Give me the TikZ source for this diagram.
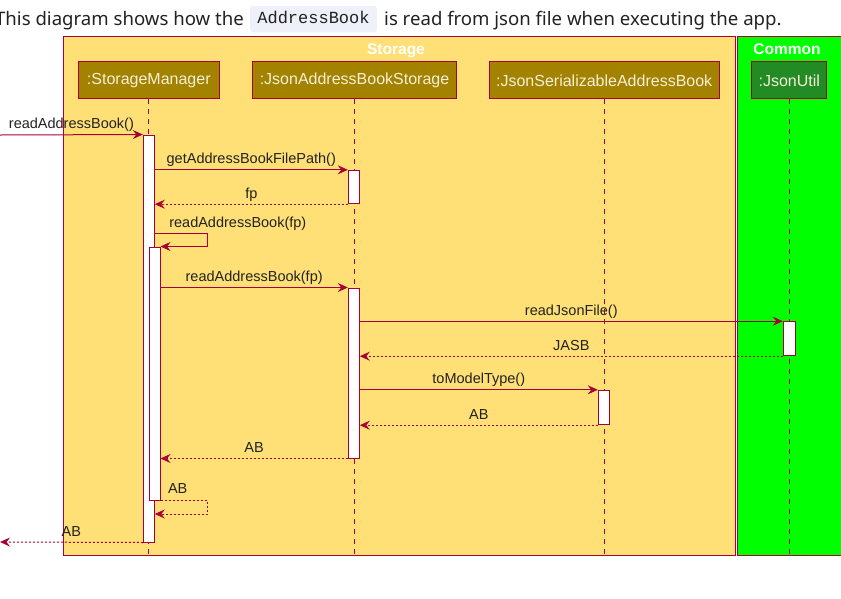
\documentclass[tikz,border=0pt]{standalone}
\usepackage{fontspec}
\setmainfont{Noto Sans}
\newfontfamily\umlfont{Liberation Sans}
\newfontfamily\codefont{Liberation Mono}
\usetikzlibrary{positioning, arrows.meta}

\definecolor{umlred}{HTML}{A80036}
\definecolor{storagefill}{HTML}{FFE076}
\definecolor{commonfill}{HTML}{00FF00}
\definecolor{partfill}{HTML}{A38200}
\definecolor{utilfill}{HTML}{238B23}
\definecolor{parttext}{HTML}{F4F0D8}
\definecolor{msgtext}{HTML}{222222}
\definecolor{codebg}{HTML}{EEF0FA}

\begin{document}
\begin{tikzpicture}[x=1pt, y=-1pt, >={Stealth[length=10pt, width=9pt, inset=3.5pt]},
    part/.style={draw=umlred, line width=1pt, fill=partfill, text=parttext, inner sep=0pt,
        minimum height=37pt, font=\umlfont\fontsize{16}{19}\selectfont},
    act/.style={draw=umlred, line width=1pt, fill=white, inner sep=0pt, minimum width=11pt},
    life/.style={umlred, line width=1pt, dash pattern=on 5pt off 5pt},
    call/.style={->, umlred, line width=1pt},
    ret/.style={->, umlred, line width=1pt, dash pattern=on 2pt off 2pt},
    msg/.style={midway, anchor=base, yshift=6pt, inner sep=0pt, text=msgtext,
        font=\umlfont\fontsize{14.5}{17}\selectfont},
    selfmsg/.style={anchor=base west, xshift=14pt, yshift=6pt, inner sep=0pt, text=msgtext,
        font=\umlfont\fontsize{14.5}{17}\selectfont},
    grptitle/.style={anchor=base, inner sep=0pt, text=white, font=\umlfont\bfseries\fontsize{15.5}{18}\selectfont},
    captext/.style={inner sep=0pt, text=msgtext, font=\fontsize{18.6}{22}\selectfont}]
    \useasboundingbox (0,0) rectangle (841,598);
    \clip (0,0) rectangle (841,598);

    % caption
    \node[captext, anchor=base east] (cap1) at (244,25.5) {This diagram shows how the};
    \node[fill=codebg, rounded corners=3pt, minimum width=127pt, minimum height=26.5pt, inner sep=0pt,
        text=msgtext, font=\codefont\fontsize{17}{20}\selectfont] (code) at (313.5,19) {\strut AddressBook};
    \node[captext, anchor=base west] (cap2) at (384,25.5) {is read from json file when executing the app.};

    % boxes
    \draw[umlred, line width=1pt, fill=storagefill] (63,36.7) rectangle (735,555.7);
    \draw[umlred, line width=1pt, fill=commonfill] (737,36.7) rectangle (850,555.7);
    \node[grptitle] (storage) at (396,54.3) {Storage};
    \node[grptitle] (common) at (787,54.3) {Common};

    % participants
    \node[part, minimum width=141pt] (sm) at (148.8,80.3) {:StorageManager};
    \node[part, minimum width=204pt] (jabs) at (354.5,80.3) {:JsonAddressBookStorage};
    \node[part, minimum width=230pt] (jsab) at (604.2,80.3) {:JsonSerializableAddressBook};
    \node[part, fill=utilfill, minimum width=75pt] (ju) at (789.3,80.3) {:JsonUtil};

    \foreach \p in {sm, jabs, jsab, ju}
        \draw[life] (\p.south) -- (\p |- 0,556);

    % activations
    \node[act, minimum height=407pt] (a1) at (148.8,338.5) {};
    \node[act, minimum height=253pt] (a2) at (154.5,373.5) {};
    \node[act, minimum height=33.4pt] (b1) at (353.8,187) {};
    \node[act, minimum height=170pt] (b2) at (353.8,373) {};
    \node[act, minimum width=12pt, minimum height=34pt] (c1) at (789.3,338.7) {};
    \node[act, minimum height=34.4pt] (d1) at (603.8,407.5) {};

    \coordinate (in1) at (0,135);
    \coordinate (out1) at (0,542);

    % messages
    \draw[call] (in1) -- (a1.north west) node[msg] {readAddressBook()};
    \draw[call] (a1.east |- b1.north) -- (b1.north west) node[msg] {getAddressBookFilePath()};
    \draw[ret] (b1.south west) -- (a1.east |- b1.south) node[msg] {fp};
    \draw[call] (a1.east |- 0,233) node[selfmsg] {readAddressBook(fp)} -- ++(53,0) |- (a2.north east);
    \draw[call] (a2.east |- b2.north) -- (b2.north west) node[msg] {readAddressBook(fp)};
    \draw[call] (b2.east |- c1.north) -- (c1.north west) node[msg] {readJsonFile()};
    \draw[ret] (c1.south west) -- (b2.east |- c1.south) node[msg] {JASB};
    \draw[call] (b2.east |- d1.north) -- (d1.north west) node[msg] {toModelType()};
    \draw[ret] (d1.south west) -- (b2.east |- d1.south) node[msg] {AB};
    \draw[ret] (b2.south west) -- (a2.east |- b2.south) node[msg] {AB};
    \draw[ret] (a2.south east) node[selfmsg, xshift=-7pt, yshift=1pt] {AB} -- ++(47,0) |- (a1.east |- 0,514);
    \draw[ret] (a1.south west) -- (out1) node[msg] {AB};
\end{tikzpicture}
\end{document}
